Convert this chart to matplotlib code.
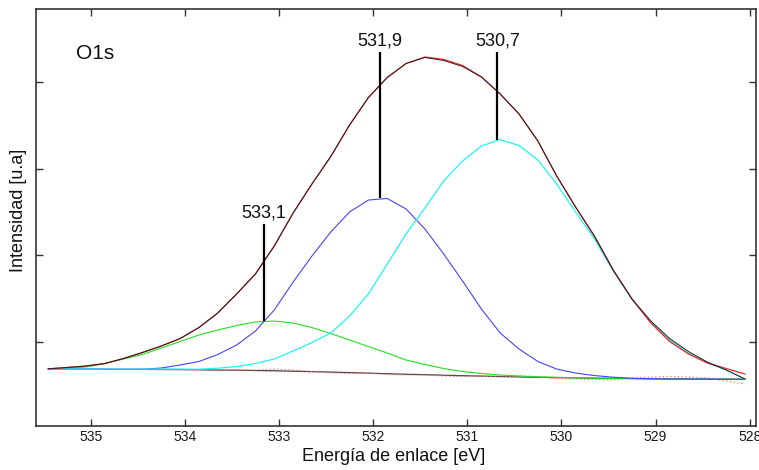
import matplotlib
matplotlib.use('Agg')
import matplotlib.pyplot as plt
import numpy as np

plt.rcParams['font.family'] = ['Liberation Sans', 'DejaVu Sans']

# Binding energy grid (eV)
energy = [535.45, 535.25, 535.05, 534.85, 534.65, 534.45, 534.25, 534.05, 533.85, 533.65,
          533.45, 533.25, 533.05, 532.85, 532.65, 532.45, 532.25, 532.05, 531.85, 531.65,
          531.45, 531.25, 531.05, 530.85, 530.65, 530.45, 530.25, 530.05, 529.85, 529.65,
          529.45, 529.25, 529.05, 528.85, 528.65, 528.45, 528.25, 528.05]

background = [68.8, 68.8, 68.7, 68.6, 68.5, 68.4, 68.3, 68.2, 67.9, 67.7,
              67.5, 67.1, 66.8, 66.3, 65.8, 65.3, 64.7, 64.1, 63.4, 62.8,
              62.3, 61.7, 61.1, 60.7, 60.2, 59.7, 59.3, 58.9, 58.6, 58.2,
              58.0, 57.8, 57.5, 57.4, 57.3, 57.2, 57.1, 57.0]

peak_533 = [68.8, 69.4, 71.2, 75.2, 80.4, 85.6, 93.1, 100.6, 108.1, 113.8,
            119.0, 123.1, 124.2, 121.9, 116.7, 109.8, 102.3, 94.8, 87.3, 79.2,
            74.0, 69.4, 66.0, 63.7, 61.9, 60.8, 59.8, 59.3, 58.8, 58.3,
            58.1, 57.8, 57.6, 57.4, 57.3, 57.2, 57.1, 57.0]

peak_5319 = [68.8, 68.8, 68.7, 68.6, 68.5, 68.6, 70.0, 73.5, 77.5, 85.6,
             96.5, 112.7, 136.9, 169.2, 199.2, 226.9, 250.0, 263.8, 265.6, 253.5,
             230.4, 201.5, 170.4, 138.1, 110.4, 91.9, 77.5, 68.8, 64.2, 61.3,
             59.4, 58.2, 57.7, 57.4, 57.3, 57.2, 57.1, 57.0]

peak_5307 = [68.8, 68.8, 68.8, 68.8, 68.8, 68.8, 68.8, 68.8, 68.6, 69.8,
             71.7, 75.2, 80.4, 89.6, 99.4, 110.4, 130.0, 155.4, 190.0, 224.6,
             254.6, 285.8, 308.8, 326.1, 333.6, 326.7, 310.0, 282.3, 250.0, 219.2,
             181.9, 149.0, 123.1, 102.3, 87.3, 75.8, 67.7, 57.3]

fit_total = [69.1, 70.6, 72.3, 75.2, 81.0, 87.9, 95.4, 104.0, 116.7, 133.5,
             155.4, 178.5, 210.8, 248.8, 282.3, 314.0, 350.4, 382.1, 405.2, 421.3,
             428.3, 424.8, 417.9, 405.8, 386.1, 363.1, 331.9, 291.5, 255.8, 222.3,
             183.1, 149.6, 124.2, 104.0, 89.0, 76.9, 67.7, 57.3]

measured = [69.1, 70.6, 72.3, 75.2, 81.0, 87.9, 95.4, 104.0, 116.7, 133.5,
            155.4, 178.5, 210.8, 248.8, 282.3, 314.0, 350.4, 382.1, 405.2, 421.3,
            428.8, 426.0, 419.0, 405.8, 386.1, 363.1, 331.9, 291.5, 255.8, 222.3,
            183.1, 149.6, 121.9, 100.6, 86.2, 75.8, 69.4, 63.1]

residual = [68.8, 68.8, 68.7, 68.6, 68.5, 68.4, 68.3, 68.2, 67.9, 67.7,
            67.5, 67.7, 68.8, 67.7, 66.0, 64.2, 63.7, 64.2, 62.5, 61.9,
            61.9, 60.8, 60.2, 60.8, 59.6, 60.8, 60.2, 57.9, 57.3, 56.7,
            56.7, 58.5, 59.6, 60.2, 59.6, 58.5, 55.0, 51.5]

peak_centers = [533.16, 531.93, 530.68]
peak_labels = ["533,1", "531,9", "530,7"]
label_line_tops = [236.2, 434.6, 434.6]

x_ticks = [535, 534, 533, 532, 531, 530, 529, 528]
x_tick_labels = ["535", "534", "533", "532", "531", "530", "529", "528"]
y_ticks = [100, 200, 300, 400]

fig = plt.figure(figsize=(7.59, 4.70), dpi=100)
ax = fig.add_axes([36 / 759, 44 / 470, 720 / 759, 417 / 470])
ax.set_xlim(535.581, 527.933)
ax.set_ylim(3.1, 484.2)

lw = 0.8
ax.plot(energy, background, color='#444444', lw=0.9, zorder=2)
ax.plot(energy, residual, color='#ff7070', lw=0.9, ls=(0, (1, 2)), zorder=2.5)
ax.plot(energy, peak_533, color='#22e022', lw=lw, zorder=3)
ax.plot(energy, peak_5319, color='#4444ff', lw=lw, zorder=3)
ax.plot(energy, peak_5307, color='#20f4f4', lw=0.9, zorder=3)
ax.plot(energy, measured, color='#ff2020', lw=0.9, zorder=4)
ax.plot(energy, fit_total, color='#222222', lw=0.7, zorder=5)

components = [peak_533, peak_5319, peak_5307]
for pos, lab, top, comp in zip(peak_centers, peak_labels, label_line_tops, components):
    bottom = max(comp)
    ax.plot([pos, pos], [bottom, top], color='black', lw=1.6, zorder=6, solid_capstyle='butt')
    ax.annotate(lab, xy=(pos, top), xytext=(0, 5), textcoords='offset points',
                ha='center', va='baseline', fontsize=13, color='#111111')

ax.text(0.0556, 0.880, "O1s", transform=ax.transAxes, fontsize=15,
        ha='left', va='baseline', color='#111111')

ax.set_xticks(x_ticks)
ax.set_xticklabels(x_tick_labels)
ax.set_yticks(y_ticks)
ax.tick_params(direction='in', top=True, right=True, length=5, width=1,
               color='#333333', labelsize=10, pad=3, labelcolor='#1a1a1a')
ax.tick_params(axis='y', labelleft=False)
for s in ax.spines.values():
    s.set_color('#333333')
    s.set_linewidth(1.2)

ax.set_xlabel("Energía de enlace [eV]", fontsize=13, color='#111111')
ax.xaxis.set_label_coords(0.497, -0.053)
ax.set_ylabel("Intensidad [u.a]", fontsize=13, color='#111111')
ax.yaxis.set_label_coords(-0.0125, 0.516)

fig.savefig('out.png', dpi=100)
